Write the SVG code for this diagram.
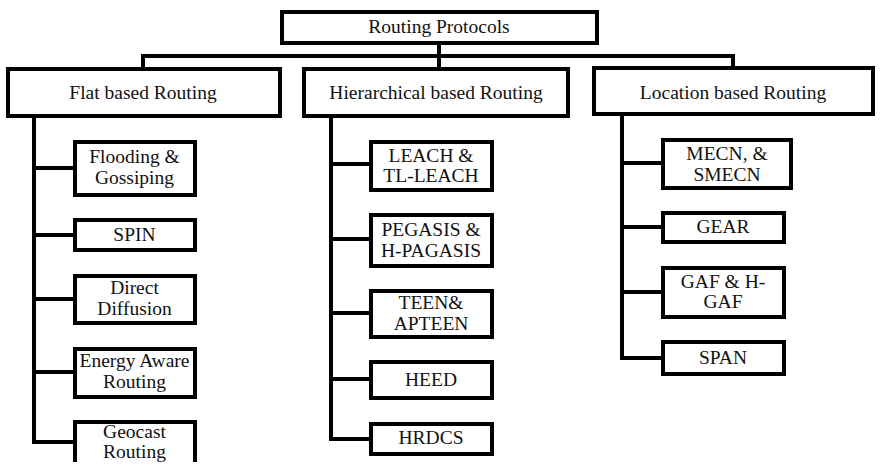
<svg xmlns="http://www.w3.org/2000/svg" width="881" height="466" viewBox="0 0 881 466">
<style>
.box{fill:#fff;stroke:#000;stroke-width:4;stroke-linejoin:miter}
.ln{fill:none;stroke:#000;stroke-width:4;stroke-linecap:square;stroke-linejoin:miter}
text{font-family:"Liberation Serif","Times New Roman",serif;font-size:19.5px;fill:#111;text-anchor:middle}
</style>
<defs><clipPath id="cut"><rect x="0" y="0" width="881" height="462"/></clipPath></defs>
<rect width="881" height="466" fill="#fff"/>
<g id="connectors">
<path class="ln" d="M439 43V67M143 56H733M143 56V68M733 56V67"/>
<path class="ln" d="M34 116V442H74M34 168H74M34 235H74M34 299H74M34 372H74"/>
<path class="ln" d="M331 116V439H370M331 164H370M331 239H370M331 313H370M331 379H370"/>
<path class="ln" d="M622 114V358H662M622 163H662M622 227H662M622 292H662"/>
</g>
<g id="root"><rect class="box" x="282" y="12" width="315" height="31"/><text x="439" y="33">Routing Protocols</text></g>
<g id="flat"><rect class="box" x="8" y="69" width="272" height="47"/><text x="143" y="99">Flat based Routing</text></g>
<g id="hier"><rect class="box" x="304" y="69" width="264" height="47"/><text x="436" y="99">Hierarchical based Routing</text></g>
<g id="loc"><rect class="box" x="594" y="68" width="279" height="46"/><text x="733" y="99">Location based Routing</text></g>
<g id="flooding"><rect class="box" x="75" y="142" width="120" height="53"/><text x="134.5" y="163">Flooding &amp;</text><text x="134.5" y="184">Gossiping</text></g>
<g id="spin"><rect class="box" x="75" y="220" width="120" height="30"/><text x="134.5" y="241">SPIN</text></g>
<g id="direct"><rect class="box" x="75" y="276" width="120" height="47"/><text x="134.5" y="294">Direct</text><text x="134.5" y="315">Diffusion</text></g>
<g id="energy"><rect class="box" x="75" y="349" width="120" height="48"/><text x="134.5" y="367">Energy Aware</text><text x="134.5" y="388">Routing</text></g>
<g id="geocast" clip-path="url(#cut)"><rect class="box" x="75" y="422" width="120" height="60"/><text x="134.5" y="438">Geocast</text><text x="134.5" y="458">Routing</text></g>
<g id="leach"><rect class="box" x="371" y="142" width="121" height="48"/><text x="431" y="162">LEACH &amp;</text><text x="431" y="182">TL-LEACH</text></g>
<g id="pegasis"><rect class="box" x="371" y="215" width="121" height="51"/><text x="431" y="236">PEGASIS &amp;</text><text x="431" y="257">H-PAGASIS</text></g>
<g id="teen"><rect class="box" x="371" y="291" width="121" height="46"/><text x="431" y="309">TEEN&amp;</text><text x="431" y="330">APTEEN</text></g>
<g id="heed"><rect class="box" x="371" y="362" width="121" height="36"/><text x="431" y="386">HEED</text></g>
<g id="hrdcs"><rect class="box" x="371" y="424" width="121" height="30"/><text x="431" y="444">HRDCS</text></g>
<g id="mecn"><rect class="box" x="663" y="140" width="128" height="48"/><text x="727" y="160">MECN, &amp;</text><text x="727" y="181">SMECN</text></g>
<g id="gear"><rect class="box" x="663" y="213" width="121" height="29"/><text x="723" y="233">GEAR</text></g>
<g id="gaf"><rect class="box" x="663" y="268" width="121" height="49"/><text x="723" y="288">GAF &amp; H-</text><text x="723" y="308">GAF</text></g>
<g id="span"><rect class="box" x="663" y="342" width="121" height="32"/><text x="723" y="364">SPAN</text></g>
</svg>
